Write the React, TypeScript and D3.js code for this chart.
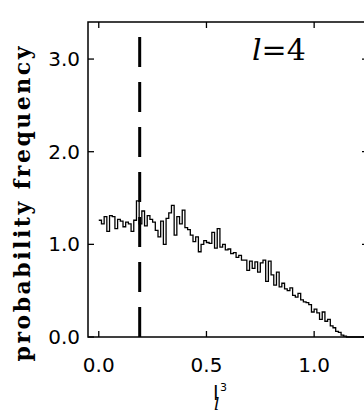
import * as d3 from 'd3';

// histogram of I^3_l for l=4, bin width 0.0125 starting at 0
const binStart = 0;
const binWidth = 0.0125;
const counts: number[] = [
  1.26, 1.22, 1.30, 1.14, 1.31, 1.30, 1.17, 1.27, 1.25, 1.19,
  1.24, 1.22, 1.14, 1.26, 1.47, 1.22, 1.36, 1.20, 1.31, 1.27,
  1.24, 1.15, 1.08, 1.25, 1.00, 1.28, 1.34, 1.42, 1.10, 1.30,
  1.22, 1.37, 1.18, 1.16, 1.10, 1.03, 1.08, 0.92, 1.00, 1.04,
  1.02, 1.01, 1.13, 0.96, 1.17, 0.97, 1.00, 0.94, 0.95, 0.90,
  0.91, 0.86, 0.88, 0.83, 0.83, 0.72, 0.82, 0.74, 0.81, 0.70,
  0.80, 0.83, 0.60, 0.82, 0.67, 0.56, 0.70, 0.54, 0.58, 0.52,
  0.50, 0.53, 0.45, 0.43, 0.47, 0.40, 0.38, 0.37, 0.35, 0.27,
  0.30, 0.26, 0.19, 0.27, 0.17, 0.19, 0.12, 0.10, 0.06, 0.05,
  0.02, 0.01,
];
const markerX = 0.19;
const xTicks = [0, 0.5, 1.0];
const yTicks = [0, 1, 2, 3];

const width = 364;
const height = 412;
const margin = { top: 22, right: -4, bottom: 75, left: 88 };

export default function App() {
  const x = d3.scaleLinear()
    .domain([-0.05, 1.25])
    .range([margin.left, width - margin.right]);
  const y = d3.scaleLinear()
    .domain([0, 3.4])
    .range([height - margin.bottom, margin.top]);

  // step outline: one point per bin edge
  const pts: [number, number][] = counts.map((c, i) => [binStart + i * binWidth, c]);
  pts.push([binStart + counts.length * binWidth, 0]);
  pts.push([1.25, 0]);
  const step = d3.line<[number, number]>()
    .x(d => x(d[0]))
    .y(d => y(d[1]))
    .curve(d3.curveStepAfter);

  const x0 = x.range()[0], x1 = x.range()[1];
  const y0 = y.range()[0], y1 = y.range()[1];
  const tick = 6;

  return (
    <svg width={width} height={height} style={{ position: 'absolute', left: 0, top: 0, background: '#fff' }}>
      <path d={step(pts)!} fill="none" stroke="#000" strokeWidth={1.3} />

      <line x1={x(markerX)} x2={x(markerX)} y1={y0} y2={y1}
        stroke="#000" strokeWidth={3} strokeDasharray="30,15" />

      {/* frame */}
      <rect x={x0} y={y1} width={x1 - x0} height={y0 - y1} fill="none" stroke="#000" strokeWidth={1.5} />

      {xTicks.map(t => (
        <g key={'x' + t}>
          <line x1={x(t)} x2={x(t)} y1={y0} y2={y0 - tick} stroke="#000" strokeWidth={1.3} />
          <line x1={x(t)} x2={x(t)} y1={y1} y2={y1 + tick} stroke="#000" strokeWidth={1.3} />
          <text x={x(t)} y={y0 + 35} textAnchor="middle" fontFamily="DejaVu Sans" fontSize={20}>
            {d3.format('.1f')(t)}
          </text>
        </g>
      ))}
      {yTicks.map(t => (
        <g key={'y' + t}>
          <line x1={x0} x2={x0 + tick} y1={y(t)} y2={y(t)} stroke="#000" strokeWidth={1.3} />
          <line x1={x1} x2={x1 - tick} y1={y(t)} y2={y(t)} stroke="#000" strokeWidth={1.3} />
          <text x={x0 - 8} y={y(t) + 7} textAnchor="end" fontFamily="DejaVu Sans" fontSize={20}>
            {d3.format('.1f')(t)}
          </text>
        </g>
      ))}

      <text transform={`translate(30,204) rotate(-90)`} textAnchor="middle"
        fontFamily="DejaVu Serif" fontWeight="bold" fontSize={22}
        textLength={315} lengthAdjust="spacing">
        probability frequency
      </text>

      <text x={252} y={60} fontFamily="DejaVu Serif" fontSize={30}>
        <tspan fontStyle="italic">l</tspan>=4
      </text>

      {/* x label: l with superscript 3, subscript italic l */}
      <text fontFamily="DejaVu Sans" fontSize={20}>
        <tspan x={213} y={400}>l</tspan>
        <tspan x={220} y={391} fontSize={11}>3</tspan>
        <tspan x={214} y={410} fontSize={17} fontFamily="DejaVu Serif" fontStyle="italic">l</tspan>
      </text>
    </svg>
  );
}
